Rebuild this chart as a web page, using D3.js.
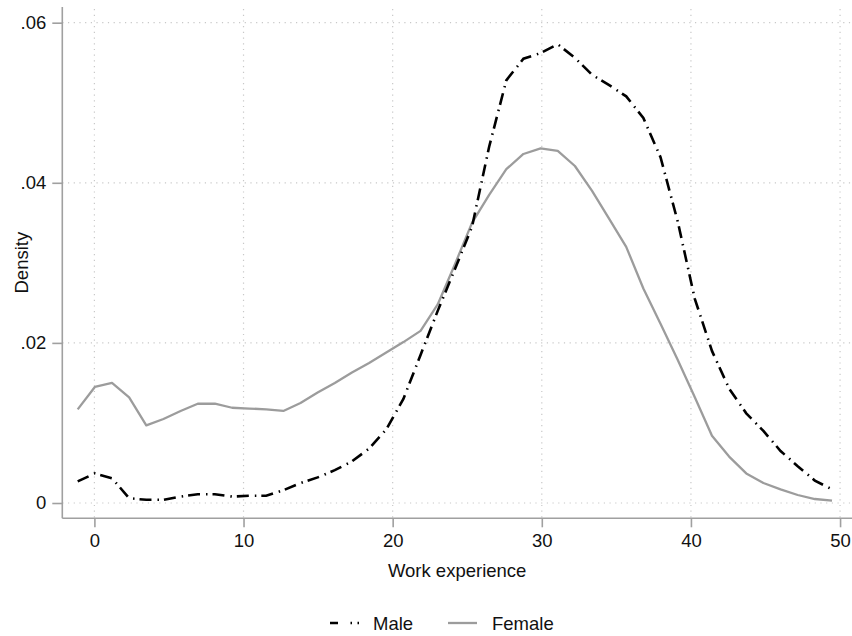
<!DOCTYPE html>
<html>
<head>
<meta charset="utf-8">
<script src="https://cdn.jsdelivr.net/npm/d3@7"></script>
<style>
  html, body { margin: 0; padding: 0; background: #fff; }
  svg { display: block; font-family: "Liberation Sans", Arial, Helvetica, sans-serif; }
</style>
</head>
<body>
<svg id="chart" width="852" height="636"></svg>
<script>
// Kernel density evaluation points (years of work experience)
const experience = [-1.12, 0.03, 1.18, 2.33, 3.48, 4.63, 5.78, 6.93, 8.08, 9.23,
  10.38, 11.52, 12.67, 13.82, 14.97, 16.12, 17.27, 18.42, 19.57, 20.72,
  21.87, 23.02, 24.17, 25.32, 26.47, 27.62, 28.77, 29.92, 31.07, 32.22,
  33.37, 34.52, 35.66, 36.81, 37.96, 39.11, 40.26, 41.41, 42.56, 43.71,
  44.86, 46.01, 47.16, 48.31, 49.46];

// Estimated densities, men
const maleDensity = [0.0027, 0.0037, 0.0031, 0.0006, 0.0004, 0.0004, 0.0008, 0.0011, 0.0011, 0.0008,
  0.0009, 0.0009, 0.0016, 0.0025, 0.0032, 0.0041, 0.0052, 0.0068, 0.0092, 0.0130,
  0.0185, 0.0240, 0.0292, 0.0345, 0.0445, 0.0528, 0.0555, 0.0562, 0.0573, 0.0556,
  0.0535, 0.0522, 0.0508, 0.0481, 0.0432, 0.0352, 0.0255, 0.0190, 0.0143, 0.0112,
  0.0090, 0.0065, 0.0046, 0.0028, 0.0017];

// Estimated densities, women
const femaleDensity = [0.0117, 0.0145, 0.0150, 0.0132, 0.0097, 0.0105, 0.0115, 0.0124, 0.0124, 0.0119,
  0.0118, 0.0117, 0.0115, 0.0125, 0.0138, 0.0150, 0.0163, 0.0175, 0.0188, 0.0201,
  0.0215, 0.0248, 0.0298, 0.0350, 0.0385, 0.0417, 0.0436, 0.0443, 0.0440, 0.0421,
  0.0390, 0.0355, 0.0320, 0.0268, 0.0224, 0.0179, 0.0132, 0.0084, 0.0058, 0.0037,
  0.0025, 0.0017, 0.0010, 0.0005, 0.0003];

const xTicks = [0, 10, 20, 30, 40, 50];
const yTicks = [0, 0.02, 0.04, 0.06];
const yTickLabels = ["0", ".02", ".04", ".06"];
const seriesNames = ["Male", "Female"];

const svg = d3.select("#chart");
const plotLeft = 62.3, plotRight = 852, plotTop = 7, plotBottom = 518.3;
const fontSize = 18.5;

const x = d3.scaleLinear().domain([-2.152, 50.8]).range([plotLeft, plotRight]);
const y = d3.scaleLinear().domain([-0.00191, 0.06196]).range([plotBottom, plotTop]);

const gridColor = "#c8c8c8";
const axisColor = "#a0a0a0";

// Dotted grid
const grid = svg.append("g");
grid.selectAll("line.gy").data(yTicks).enter().append("line")
  .attr("x1", plotLeft).attr("x2", plotRight)
  .attr("y1", d => y(d)).attr("y2", d => y(d))
  .attr("stroke", gridColor).attr("stroke-width", 1.2)
  .attr("stroke-dasharray", "1.2,4.5");
grid.selectAll("line.gx").data(xTicks).enter().append("line")
  .attr("x1", d => x(d)).attr("x2", d => x(d))
  .attr("y1", plotTop + 2).attr("y2", plotBottom)
  .attr("stroke", gridColor).attr("stroke-width", 1.2)
  .attr("stroke-dasharray", "1.2,4.5");

// Axes
const xAxis = d3.axisBottom(x).tickValues(xTicks).tickSize(9).tickPadding(7).tickSizeOuter(0);
const gx = svg.append("g").attr("transform", `translate(0,${plotBottom})`).call(xAxis);
gx.select(".domain").attr("d", `M${plotLeft},0H${plotRight}`);

const yAxis = d3.axisLeft(y).tickValues(yTicks).tickSize(10).tickPadding(6).tickSizeOuter(0)
  .tickFormat((d, i) => yTickLabels[i]);
const gy = svg.append("g").attr("transform", `translate(${plotLeft},0)`).call(yAxis);
gy.select(".domain").attr("d", `M0,${plotTop}V${plotBottom}`);

[gx, gy].forEach(g => {
  g.selectAll(".domain").attr("stroke", axisColor).attr("stroke-width", 1.6);
  g.selectAll(".tick line").attr("stroke", axisColor).attr("stroke-width", 1.6);
  g.selectAll(".tick text").attr("fill", "#111").attr("font-size", fontSize)
    .attr("font-family", "Liberation Sans, Arial, sans-serif");
});

// Density curves
const rows = experience.map((e, i) => ({ e, m: maleDensity[i], f: femaleDensity[i] }));
const lineF = d3.line().x(d => x(d.e)).y(d => y(d.f));
const lineM = d3.line().x(d => x(d.e)).y(d => y(d.m));

svg.append("path").datum(rows).attr("d", lineF)
  .attr("fill", "none").attr("stroke", "#9c9c9c").attr("stroke-width", 2.3)
  .attr("stroke-linejoin", "round");
svg.append("path").datum(rows).attr("d", lineM)
  .attr("fill", "none").attr("stroke", "#000").attr("stroke-width", 2.6)
  .attr("stroke-dasharray", "12,6,1.5,5");

// Axis titles
svg.append("text").attr("x", (plotLeft + plotRight) / 2).attr("y", 577)
  .attr("text-anchor", "middle").attr("font-size", fontSize).attr("fill", "#111")
  .text("Work experience");
svg.append("text")
  .attr("transform", `translate(28,${(plotTop + plotBottom) / 2}) rotate(-90)`)
  .attr("text-anchor", "middle").attr("font-size", fontSize).attr("fill", "#111")
  .text("Density");

// Legend
const legend = svg.append("g");
const legendY = 623;
legend.append("line").attr("x1", 330).attr("x2", 360).attr("y1", legendY).attr("y2", legendY)
  .attr("stroke", "#000").attr("stroke-width", 2.6).attr("stroke-dasharray", "8,12.5,1.5,5.5,1.5,10");
legend.append("text").attr("x", 373).attr("y", 629.5).attr("font-size", fontSize).attr("fill", "#111")
  .text(seriesNames[0]);
legend.append("line").attr("x1", 448).attr("x2", 477).attr("y1", legendY).attr("y2", legendY)
  .attr("stroke", "#9c9c9c").attr("stroke-width", 2.3);
legend.append("text").attr("x", 492).attr("y", 629.5).attr("font-size", fontSize).attr("fill", "#111")
  .text(seriesNames[1]);
</script>
</body>
</html>
